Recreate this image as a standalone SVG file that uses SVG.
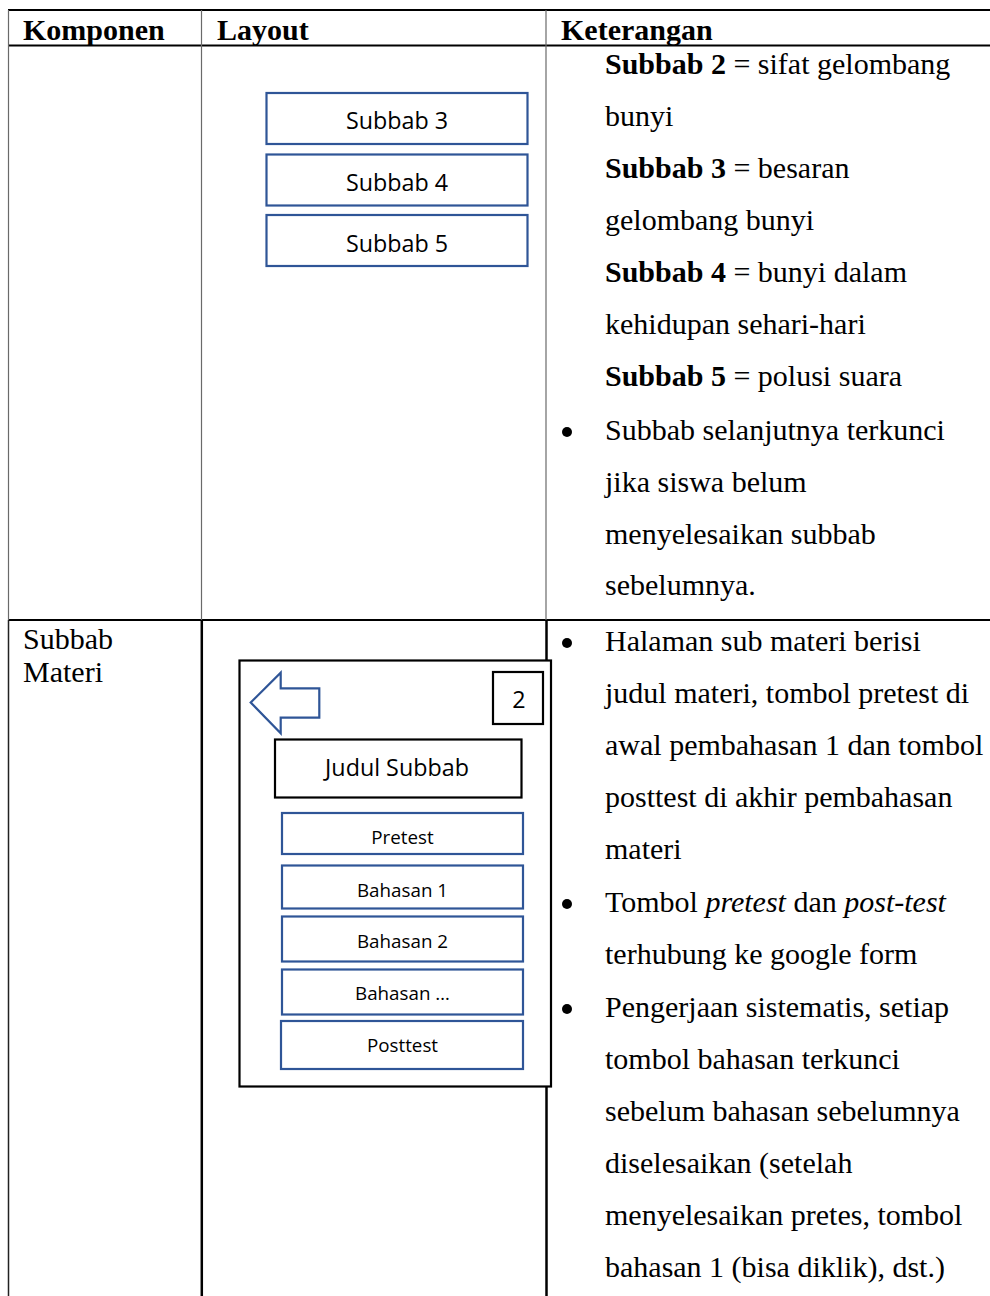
<svg xmlns="http://www.w3.org/2000/svg" width="990" height="1296" viewBox="0 0 990 1296">
  <style>
    .bg { fill: #ffffff; }
    .rule { stroke: #000000; stroke-width: 2; }
    .thin { stroke: #6a6a6a; stroke-width: 1.2; }
    .serif { font-family: "Liberation Serif", "Times New Roman", serif; font-size: 30px; fill: #000000; }
    .head { font-weight: bold; }
    .b { font-weight: bold; }
    .i { font-style: italic; }
    .btn { fill: #ffffff; stroke: #2F5597; stroke-width: 2.2; }
    .blk { fill: #ffffff; stroke: #000000; stroke-width: 2.2; }
    .ui { font-family: "Open Sans", "Noto Sans", sans-serif; fill: #000000; text-anchor: middle; }
    .ui-l { font-size: 23.3px; }
    .ui-s { font-size: 18.8px; }
    .dot { fill: #000000; }
  </style>

  <rect class="bg" x="0" y="0" width="990" height="1296"/>

  <!-- table grid -->
  <g id="table-grid">
    <line class="rule" x1="8" y1="10" x2="990" y2="10"/>
    <line class="rule" x1="8" y1="45.5" x2="990" y2="45.5"/>
    <line class="rule" x1="8" y1="620" x2="990" y2="620"/>
    <!-- upper row: light verticals -->
    <line class="thin" x1="8.5" y1="10" x2="8.5" y2="620"/>
    <line class="thin" x1="201.5" y1="10" x2="201.5" y2="620"/>
    <line class="thin" x1="546" y1="10" x2="546" y2="620"/>
    <!-- lower row: heavier verticals -->
    <line class="thin" x1="8.5" y1="620" x2="8.5" y2="1296" style="stroke:#222;stroke-width:1.5"/>
    <line class="rule" x1="201.8" y1="620" x2="201.8" y2="1296" style="stroke-width:2.5"/>
    <line class="rule" x1="546.5" y1="620" x2="546.5" y2="1296" style="stroke-width:2.5"/>
  </g>

  <!-- header -->
  <g id="header" class="serif head">
    <text x="23" y="40">Komponen</text>
    <text x="217" y="40">Layout</text>
    <text x="561" y="40">Keterangan</text>
  </g>

  <!-- row 1: chapter list (continued) -->
  <g id="subbab-3">
    <rect class="btn" x="266.5" y="93" width="261" height="51"/>
    <text class="ui ui-l" x="397" y="129">Subbab 3</text>
  </g>
  <g id="subbab-4">
    <rect class="btn" x="266.5" y="154.5" width="261" height="51"/>
    <text class="ui ui-l" x="397" y="190.5">Subbab 4</text>
  </g>
  <g id="subbab-5">
    <rect class="btn" x="266.5" y="215" width="261" height="51"/>
    <text class="ui ui-l" x="397" y="251.5">Subbab 5</text>
  </g>

  <g id="desc-1" class="serif">
    <text x="605" y="74"><tspan class="b">Subbab 2</tspan> = sifat gelombang</text>
    <text x="605" y="126">bunyi</text>
    <text x="605" y="178"><tspan class="b">Subbab 3</tspan> = besaran</text>
    <text x="605" y="230">gelombang bunyi</text>
    <text x="605" y="282"><tspan class="b">Subbab 4</tspan> = bunyi dalam</text>
    <text x="605" y="334">kehidupan sehari-hari</text>
    <text x="605" y="386"><tspan class="b">Subbab 5</tspan> = polusi suara</text>
    <circle class="dot" cx="567" cy="432" r="5"/>
    <text x="605" y="440">Subbab selanjutnya terkunci</text>
    <text x="605" y="492">jika siswa belum</text>
    <text x="605" y="544">menyelesaikan subbab</text>
    <text x="605" y="595">sebelumnya.</text>
  </g>

  <!-- row 2: sub-chapter page -->
  <g id="label-2" class="serif">
    <text x="23" y="649">Subbab</text>
    <text x="23" y="682">Materi</text>
  </g>

  <g id="screen-frame">
    <rect class="blk" x="239.5" y="660.5" width="311.5" height="426"/>
  </g>

  <g id="back-arrow">
    <path d="M250.7,702.5 L280.7,672.7 L280.7,688.3 L319.3,688.3 L319.3,717.7 L280.7,717.7 L280.7,733.3 Z" fill="#ffffff" stroke="#2F5597" stroke-width="2.2" stroke-linejoin="miter"/>
  </g>

  <g id="page-number">
    <rect class="blk" x="493" y="672" width="50" height="52"/>
    <text class="ui ui-l" x="519" y="708">2</text>
  </g>

  <g id="judul-subbab">
    <rect class="blk" x="275" y="739.5" width="246.5" height="58"/>
    <text class="ui ui-l" x="397" y="776">Judul Subbab</text>
  </g>

  <g id="btn-pretest">
    <rect class="btn" x="282" y="813" width="241" height="41"/>
    <text class="ui ui-s" x="402.5" y="844">Pretest</text>
  </g>
  <g id="btn-bahasan-1">
    <rect class="btn" x="282" y="865.5" width="241" height="43"/>
    <text class="ui ui-s" x="402.5" y="896.5">Bahasan 1</text>
  </g>
  <g id="btn-bahasan-2">
    <rect class="btn" x="282" y="916.5" width="241" height="45"/>
    <text class="ui ui-s" x="402.5" y="947.5">Bahasan 2</text>
  </g>
  <g id="btn-bahasan-n">
    <rect class="btn" x="282" y="969.5" width="241" height="45"/>
    <text class="ui ui-s" x="402.5" y="1000">Bahasan …</text>
  </g>
  <g id="btn-posttest">
    <rect class="btn" x="281" y="1021" width="242" height="48"/>
    <text class="ui ui-s" x="402.5" y="1052">Posttest</text>
  </g>

  <g id="desc-2" class="serif">
    <circle class="dot" cx="567" cy="643" r="5"/>
    <text x="605" y="651">Halaman sub materi berisi</text>
    <text x="605" y="703">judul materi, tombol pretest di</text>
    <text x="605" y="755">awal pembahasan 1 dan tombol</text>
    <text x="605" y="807">posttest di akhir pembahasan</text>
    <text x="605" y="859">materi</text>
    <circle class="dot" cx="567" cy="904" r="5"/>
    <text x="605" y="912">Tombol <tspan class="i">pretest</tspan> dan <tspan class="i">post-test</tspan></text>
    <text x="605" y="964">terhubung ke google form</text>
    <circle class="dot" cx="567" cy="1009" r="5"/>
    <text x="605" y="1017">Pengerjaan sistematis, setiap</text>
    <text x="605" y="1069">tombol bahasan terkunci</text>
    <text x="605" y="1121">sebelum bahasan sebelumnya</text>
    <text x="605" y="1173">diselesaikan (setelah</text>
    <text x="605" y="1225">menyelesaikan pretes, tombol</text>
    <text x="605" y="1277">bahasan 1 (bisa diklik), dst.)</text>
  </g>
</svg>
